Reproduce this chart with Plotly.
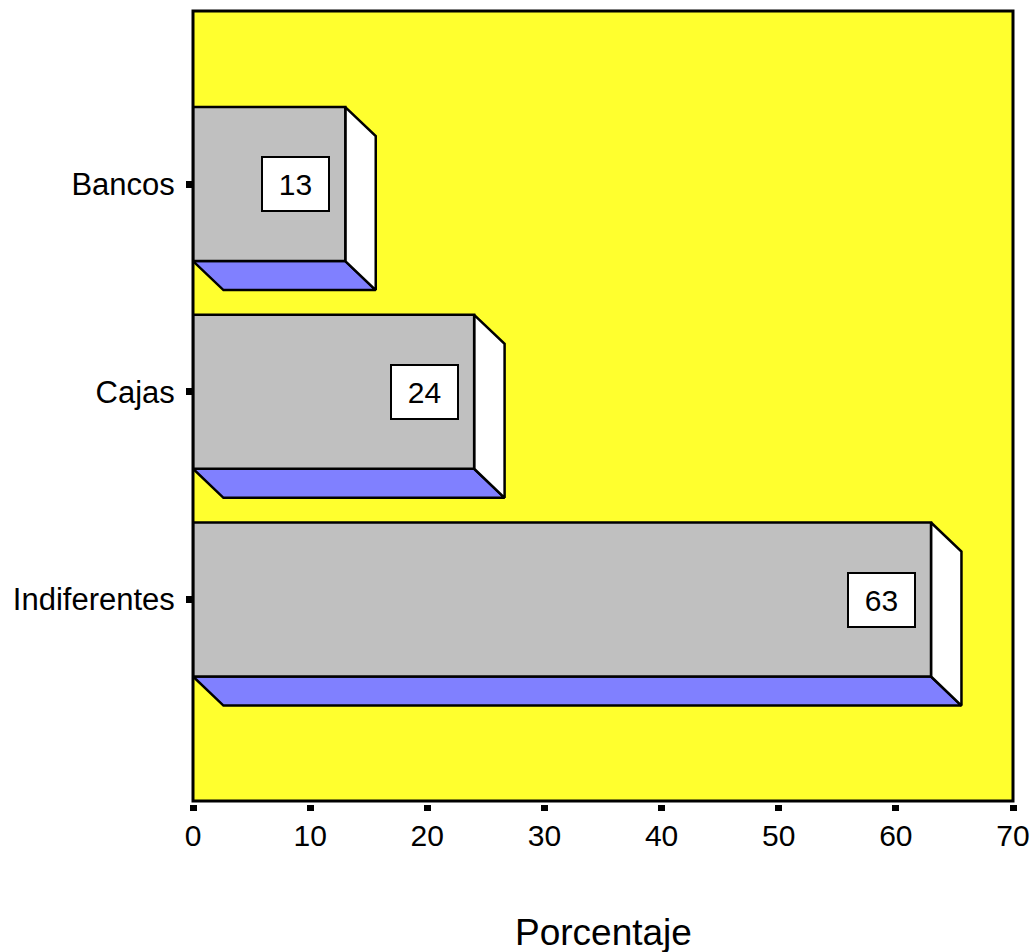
import plotly.graph_objects as go

# Data
categories = ["Indiferentes", "Cajas", "Bancos"]
percentages = [63, 24, 13]
x_ticks = [0, 10, 20, 30, 40, 50, 60, 70]

# 3D bar geometry (data units)
HALF = 0.3706      # half height of the front face
DX = 2.6           # depth offset along x
DY = 0.14          # depth offset along y

FRONT = "#C0C0C0"
SIDE = "#FFFFFF"
FLOOR = "#8080FF"
BG = "#FFFF2E"
FONT = "Liberation Sans, Arial, sans-serif"

fig = go.Figure()


def poly(xs, ys, fill):
    fig.add_trace(go.Scatter(
        x=xs + [xs[0]], y=ys + [ys[0]], mode="lines", fill="toself",
        fillcolor=fill, line=dict(color="black", width=2.5),
        hoverinfo="skip", showlegend=False,
    ))


for i, (cat, v) in enumerate(zip(categories, percentages)):
    top, bot = i + HALF, i - HALF
    # underside
    poly([0, v, v + DX, DX], [bot, bot, bot - DY, bot - DY], FLOOR)
    # right side
    poly([v, v + DX, v + DX, v], [top, top - DY, bot - DY, bot], SIDE)
    # front face
    poly([0, v, v, 0], [bot, bot, top, top], FRONT)
    # value label
    fig.add_annotation(
        x=v, y=i, xref="x", yref="y", text=str(v), showarrow=False,
        xanchor="right", yanchor="middle", xshift=-15,
        width=65, height=52, borderpad=0, borderwidth=2,
        bordercolor="black", bgcolor="white",
        font=dict(family=FONT, size=30, color="black"),
    )

# plot frame
fig.add_shape(type="rect", xref="x domain", yref="y domain",
              x0=0, x1=1, y0=0, y1=1,
              line=dict(color="black", width=3),
              fillcolor="rgba(0,0,0,0)", layer="above")

# axis title
fig.add_annotation(x=0.5, y=-0.162, xref="paper", yref="paper",
                   text="Porcentaje", showarrow=False,
                   xanchor="center", yanchor="middle",
                   font=dict(family=FONT, size=37, color="black"))

fig.update_layout(
    template="none",
    width=1034, height=952,
    margin=dict(l=193, r=21, t=11, b=148, autoexpand=False),
    paper_bgcolor="white", plot_bgcolor=BG,
    font=dict(family=FONT, color="black"),
    showlegend=False,
    xaxis=dict(
        range=[0, 70], tickvals=x_ticks, ticktext=[str(t) for t in x_ticks],
        anchor="free", position=0, showgrid=False, zeroline=False,
        showline=False, ticks="outside", ticklen=6, tickwidth=7,
        tickcolor="black", tickfont=dict(family=FONT, size=30),
        ticklabelstandoff=-1, automargin=False,
    ),
    yaxis=dict(
        range=[-0.970, 2.833], domain=[0.00378, 1],
        tickvals=list(range(len(categories))), ticktext=categories,
        showgrid=False, zeroline=False, showline=False,
        ticks="outside", ticklen=6, tickwidth=7, tickcolor="black",
        tickfont=dict(family=FONT, size=31), ticklabelstandoff=5,
        automargin=False,
    ),
)

fig.write_html("out.html")
